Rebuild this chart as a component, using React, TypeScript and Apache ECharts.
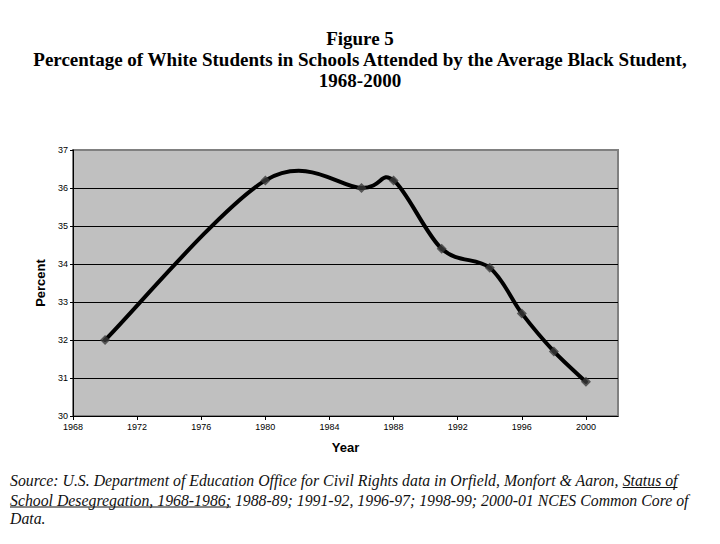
import React, { useEffect, useRef } from "react";
import * as echarts from "echarts";

const years = [1970, 1980, 1986, 1988, 1991, 1994, 1996, 1998, 2000];
const percents = [32.0, 36.2, 36.0, 36.2, 34.4, 33.9, 32.7, 31.7, 30.9];
const titleLines = [
  "Figure 5",
  "Percentage of White Students in Schools Attended by the Average Black Student,",
  "1968-2000",
];
const source1a = "Source: U.S. Department of Education Office for Civil Rights data in Orfield, Monfort & Aaron, ";
const source1u = "Status of";
const source2u = "School Desegregation, 1968-1986;";
const source2b = " 1988-89; 1991-92, 1996-97; 1998-99; 2000-01 NCES Common Core of";
const source3 = "Data.";

const SRC_FONT_SIZE = 15.8;
const SRC_FONT_FAMILY = '"Liberation Serif", serif';

function measure(text: string): number {
  const c = document.createElement("canvas").getContext("2d");
  if (!c) return text.length * 6.8;
  c.font = `italic ${SRC_FONT_SIZE}px ${SRC_FONT_FAMILY}`;
  return c.measureText(text).width;
}

export default function App() {
  const ref = useRef<HTMLDivElement>(null);
  useEffect(() => {
    if (!ref.current) return;
    const chart = echarts.init(ref.current, null, { renderer: "svg" });
    const mid = SRC_FONT_SIZE * 0.33;
    const srcStyle = {
      fontFamily: SRC_FONT_FAMILY,
      fontStyle: "italic",
      fontSize: SRC_FONT_SIZE,
      fill: "#111",
      verticalAlign: "middle",
    };
    const x0 = 10;
    const w1a = measure(source1a);
    const w1u = measure(source1u);
    const w2u = measure(source2u);
    const b1 = 486, b2 = 505.5, b3 = 524;
    const n = years.length;
    chart.setOption({
      animation: false,
      backgroundColor: "#fff",
      grid: {
        left: 73,
        right: 102,
        top: 150,
        bottom: 128,
        show: true,
        backgroundColor: "#c0c0c0",
        borderColor: "#808080",
        borderWidth: 2,
      },
      xAxis: {
        type: "value",
        min: 1968,
        max: 2002,
        interval: 4,
        name: "Year",
        nameLocation: "middle",
        nameGap: 25,
        nameTextStyle: { fontFamily: "Liberation Sans", fontWeight: "bold", fontSize: 13, color: "#000" },
        axisLine: { show: true, lineStyle: { color: "#000", width: 1 } },
        axisTick: { show: true, length: 4, lineStyle: { color: "#000" } },
        axisLabel: {
          fontFamily: "Liberation Sans",
          fontSize: 9,
          color: "#000",
          margin: 6,
          showMaxLabel: false,
          formatter: (v: number) => String(v),
        },
        splitLine: { show: false },
      },
      yAxis: {
        type: "value",
        min: 30,
        max: 37,
        interval: 1,
        name: "Percent",
        nameLocation: "middle",
        nameGap: 15,
        nameTextStyle: { fontFamily: "Liberation Sans", fontWeight: "bold", fontSize: 13, color: "#000" },
        axisLine: { show: true, lineStyle: { color: "#000", width: 1 } },
        axisTick: { show: true, length: 3, lineStyle: { color: "#000" } },
        axisLabel: { fontFamily: "Liberation Sans", fontSize: 9, color: "#000", margin: 5 },
        splitLine: {
          show: true,
          lineStyle: { color: ["#000", "#000", "#000", "#000", "#000", "#000", "#000", "#808080"], width: 1 },
        },
      },
      series: [
        {
          type: "custom",
          data: years.map((y, i) => [y, percents[i]]),
          encode: { x: 0, y: 1 },
          renderItem: (params: any, api: any) => {
            const i = params.dataIndex;
            if (i >= n - 1) return null;
            const pt = (j: number) => {
              const k = Math.max(0, Math.min(n - 1, j));
              return api.coord([years[k], percents[k]]);
            };
            const p0 = pt(i - 1), p1 = pt(i), p2 = pt(i + 1), p3 = pt(i + 2);
            return {
              type: "bezierCurve",
              shape: {
                x1: p1[0],
                y1: p1[1],
                x2: p2[0],
                y2: p2[1],
                cpx1: p1[0] + (p2[0] - p0[0]) / 6,
                cpy1: p1[1] + (p2[1] - p0[1]) / 6,
                cpx2: p2[0] - (p3[0] - p1[0]) / 6,
                cpy2: p2[1] - (p3[1] - p1[1]) / 6,
              },
              style: { stroke: "#000", lineWidth: 4, fill: "none", lineCap: "round" },
            };
          },
          z: 2,
        },
        {
          type: "scatter",
          data: years.map((y, i) => [y, percents[i]]),
          symbol: "diamond",
          symbolSize: 10,
          itemStyle: { color: "#3a3a3a" },
          z: 3,
        },
      ],
      graphic: [
        ...titleLines.map((t, i) => ({
          type: "text",
          x: 360,
          y: [38, 59, 80][i],
          style: {
            text: t,
            fontFamily: '"Liberation Serif", serif',
            fontWeight: "bold",
            fontSize: 19,
            fill: "#000",
            align: "center",
            verticalAlign: "middle",
          },
        })),
        { type: "text", x: x0, y: b1 - mid, style: { ...srcStyle, text: source1a } },
        { type: "text", x: x0 + w1a, y: b1 - mid, style: { ...srcStyle, text: source1u } },
        { type: "line", shape: { x1: x0 + w1a, y1: b1 + 1.5, x2: x0 + w1a + w1u, y2: b1 + 1.5 }, style: { stroke: "#111", lineWidth: 1 } },
        { type: "text", x: x0, y: b2 - mid, style: { ...srcStyle, text: source2u } },
        { type: "line", shape: { x1: x0, y1: b2 + 1.5, x2: x0 + w2u, y2: b2 + 1.5 }, style: { stroke: "#111", lineWidth: 1 } },
        { type: "text", x: x0 + w2u, y: b2 - mid, style: { ...srcStyle, text: source2b } },
        { type: "text", x: x0, y: b3 - mid, style: { ...srcStyle, text: source3 } },
      ],
    });
    return () => chart.dispose();
  }, []);
  return <div ref={ref} style={{ width: 720, height: 544, position: "absolute", left: 0, top: 0 }} />;
}
